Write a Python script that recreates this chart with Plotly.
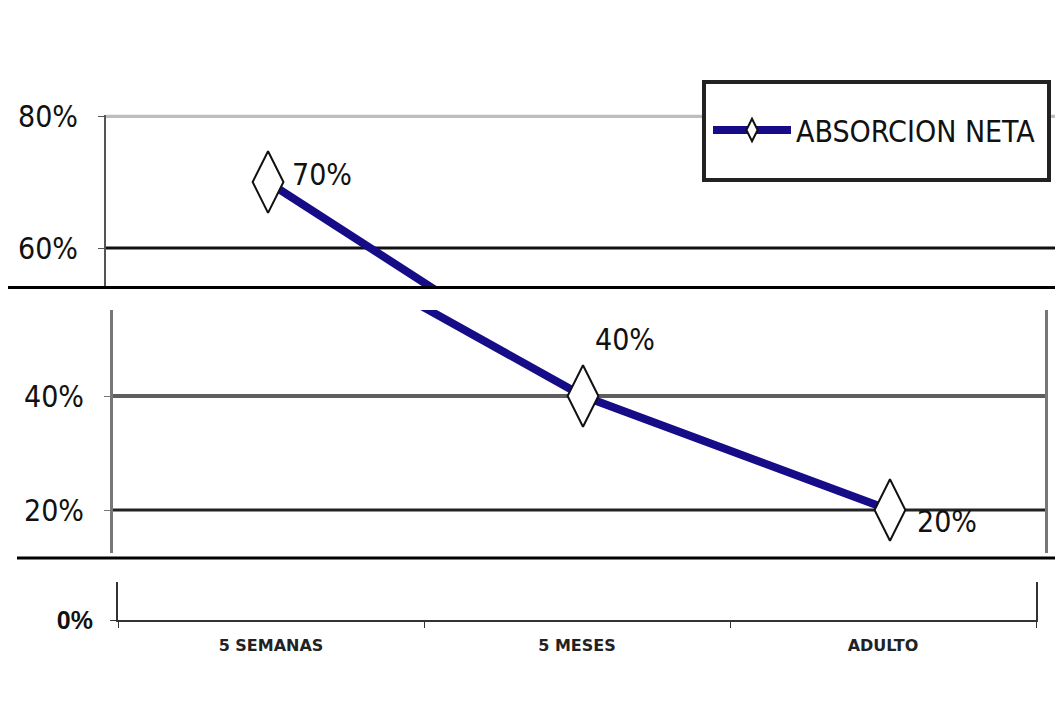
import plotly.graph_objects as go

# Net absorption by age group
categories = ["5 SEMANAS", "5 MESES", "ADULTO"]
absorcion = [70, 40, 20]
series_name = "ABSORCION NETA"
grid_top = [60, 80]
grid_mid = [20, 40]
grid_bottom = [0]

W, H = 1055, 704
NARROW = "Liberation Sans Narrow, Arial Narrow, DejaVu Sans Condensed, sans-serif"
LINE_BLUE = "#170c88"

# y ranges of the three stacked panels
panels = {
    "": dict(range=[54.1, 80.2]),
    "2": dict(range=[12.46, 55.09]),
    "3": dict(range=[0, 6.67]),
}


def fx(p):
    return p / W


def fy(p):
    return 1 - p / H


fig = go.Figure()

# the same series drawn in every panel, clipped to each panel's range
for i, ax in enumerate(panels):
    fig.add_trace(go.Scatter(
        x=categories, y=absorcion, name=series_name,
        mode="lines+markers",
        line=dict(color=LINE_BLUE, width=8),
        marker=dict(symbol="diamond-tall", size=44, color="white",
                    line=dict(color="#111", width=2)),
        cliponaxis=True,
        showlegend=(i == 0),
        xaxis="x" + ax, yaxis="y" + ax,
    ))

# value labels, placed in the panel that holds the point
label_shift = [(22, 8), (10, 57), (25, -11)]
for cat, val, (dx, dy) in zip(categories, absorcion, label_shift):
    for ax, p in panels.items():
        lo, hi = p["range"]
        if lo <= val <= hi:
            fig.add_annotation(
                x=cat, y=val, xref="x" + ax, yref="y" + ax,
                text=f"{val}%", showarrow=False,
                xanchor="left", yanchor="middle", xshift=dx, yshift=dy,
                font=dict(family=NARROW, size=30, color="#111"),
            )

cat_axis = dict(type="category", categoryorder="array", categoryarray=categories,
                showgrid=False, zeroline=False, fixedrange=True)

fig.update_layout(
    width=W, height=H,
    margin=dict(l=0, r=0, t=0, b=0, autoexpand=False),
    paper_bgcolor="white", plot_bgcolor="white",
    showlegend=True,
    legend=dict(x=fx(708), y=fy(130), xanchor="left", yanchor="middle",
                bgcolor="rgba(0,0,0,0)", borderwidth=0, itemwidth=78,
                font=dict(family=NARROW, size=30, color="#111")),
    # top panel
    xaxis=dict(cat_axis, domain=[fx(106), fx(1055)], range=[-0.528, 2.564],
               anchor="y", visible=False),
    yaxis=dict(domain=[fy(287), fy(114.7)], range=panels[""]["range"], anchor="x",
               tickvals=grid_top, ticktext=[f"{v}%" for v in grid_top],
               showgrid=False, zeroline=False, showline=True,
               linecolor="#555", linewidth=2, ticks="outside", ticklen=6,
               tickcolor="#555", ticklabelstandoff=14,
               tickfont=dict(family=NARROW, size=30, color="#111")),
    # middle panel
    xaxis2=dict(cat_axis, domain=[fx(113), fx(1045)], range=[-0.531, 2.505],
                anchor="y2", visible=False),
    yaxis2=dict(domain=[fy(553), fy(310)], range=panels["2"]["range"], anchor="x2",
                tickvals=grid_mid, ticktext=[f"{v}%" for v in grid_mid],
                showgrid=False, zeroline=False, showline=True, mirror=True,
                linecolor="#777", linewidth=3, ticks="outside", ticklen=6,
                tickcolor="#777", ticklabelstandoff=14,
                tickfont=dict(family=NARROW, size=30, color="#111")),
    # bottom panel with the category axis
    xaxis3=dict(cat_axis, domain=[fx(118), fx(1036)], range=[-0.5, 2.5],
                anchor="y3", showline=True, linecolor="#333", linewidth=2,
                mirror=False, ticks="outside", tickson="boundaries", ticklen=6,
                tickcolor="#333", ticklabelstandoff=10,
                tickfont=dict(family="DejaVu Sans, sans-serif",
                              size=16, color="#222", weight="bold")),
    yaxis3=dict(domain=[fy(620), fy(582)], range=panels["3"]["range"], anchor="x3",
                tickvals=grid_bottom, ticktext=[f"{v}%" for v in grid_bottom],
                showgrid=False, zeroline=False, showline=True, mirror=True,
                linecolor="#333", linewidth=2, ticks="outside", ticklen=6,
                tickcolor="#333", ticklabelstandoff=12,
                tickfont=dict(family="Liberation Sans, Arial, sans-serif",
                              size=25, color="#111", weight="bold")),
)

# horizontal reference lines in each panel
grid_style = {
    ("y", 80): ("#bdbdbd", 4), ("y", 60): ("#111111", 3),
    ("y2", 40): ("#5e5e5e", 4), ("y2", 20): ("#222222", 3),
}
for (yref, level), (col, wid) in grid_style.items():
    xref = "x domain" if yref == "y" else "x2 domain"
    fig.add_shape(type="line", xref=xref, yref=yref, x0=0, x1=1,
                  y0=level, y1=level, layer="below",
                  line=dict(color=col, width=wid))

# panel separators
for sep_y, x_start in [(287.5, 8), (558, 17)]:
    fig.add_shape(type="line", xref="paper", yref="paper",
                  x0=fx(x_start), x1=1, y0=fy(sep_y), y1=fy(sep_y),
                  line=dict(color="black", width=3))

# legend frame
fig.add_shape(type="rect", xref="paper", yref="paper",
              x0=fx(704), x1=fx(1049), y0=fy(180), y1=fy(82),
              fillcolor="white", layer="above",
              line=dict(color="#222", width=4))

fig.write_html("out.html")
